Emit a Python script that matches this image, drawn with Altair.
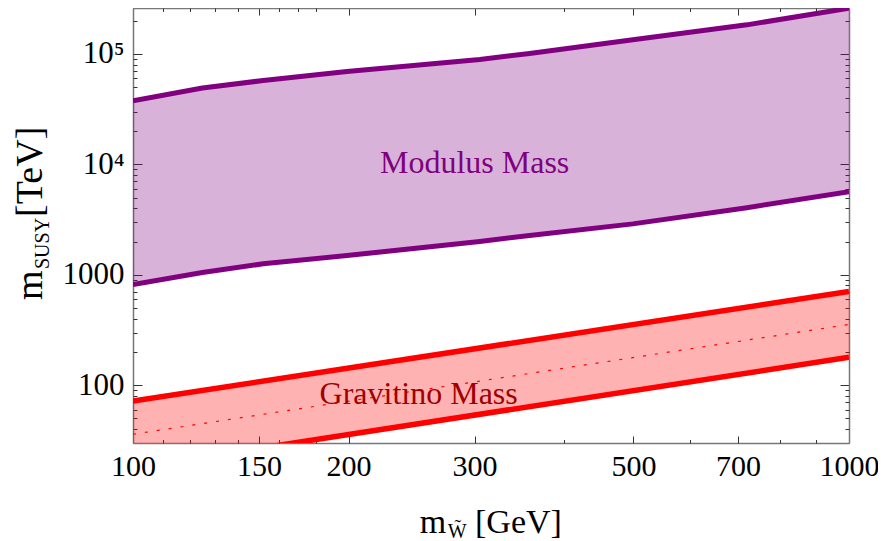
import altair as alt
import pandas as pd

# ---- data ----
purple_x = [100, 125, 152, 199, 305, 358, 499, 720, 1000]
purple_upper = [37600, 49000, 57400, 69200, 89000, 100800, 134000, 183000, 259000]
purple_lower = [817, 1050, 1257, 1493, 2000, 2270, 2890, 4050, 5650]

red_x = [100, 1000]
red_upper = [72, 705]
red_lower = [17.9, 179]
red_mid = [36, 355]

x_major = [100, 150, 200, 300, 500, 700, 1000]
x_minor = [110, 120, 130, 140, 160, 170, 180, 400, 600, 800, 900]
y_major = [100, 1000, 10000, 100000]
y_minor = [40, 50, 60, 70, 80, 90,
           200, 300, 400, 500, 600, 700, 800, 900,
           2000, 3000, 4000, 5000, 6000, 7000, 8000, 9000,
           20000, 30000, 40000, 50000, 60000, 70000, 80000, 90000,
           200000]

W, H = 716, 435
FONT = "Liberation Serif"
PURPLE = "#800080"
RED = "#ff0000"

purple = pd.DataFrame({"x": purple_x, "upper": purple_upper, "lower": purple_lower})
red = pd.DataFrame({"x": red_x, "upper": red_upper, "lower": red_lower, "mid": red_mid})

xs = alt.Scale(type="log", domain=[100, 1000], nice=False)
ys = alt.Scale(type="log", domain=[30, 2.6e5], nice=False)

NONE = None


def tick_axis(orient, offset, values, size, domain=False):
    return alt.Axis(orient=orient, offset=offset, values=values, labels=False,
                    ticks=True, tickSize=size, tickColor="#333333", tickWidth=1,
                    domain=domain, domainColor="#777777", domainWidth=1.5,
                    grid=False, title=None)


ax_bottom = alt.Axis(orient="bottom", values=x_major, ticks=False, domain=True,
                     domainColor="#777777", domainWidth=1.5, grid=False, title=None,
                     labelFont=FONT, labelFontSize=30, labelColor="black",
                     labelPadding=8, labelAngle=0, labelFlush=False,
                     labelOverlap=False, format="d")
ay_left = alt.Axis(orient="left", values=y_major, ticks=False, domain=True,
                   domainColor="#777777", domainWidth=1.5, grid=False, title=None,
                   labelFont=FONT, labelFontSize=31, labelColor="black",
                   labelPadding=9, labelFlush=False, labelOverlap=False,
                   labelExpr="datum.value == 10000 ? '10\u2074' : datum.value == 100000 ? '10\u2075' : format(datum.value, 'd')")


def X(field, axis):
    return alt.X(field, type="quantitative", scale=xs, axis=axis)


def Y(field, axis):
    return alt.Y(field, type="quantitative", scale=ys, axis=axis)


purple_area = alt.Chart(purple).mark_area(color=PURPLE, opacity=0.3, clip=True).encode(
    x=X("x", ax_bottom), y=Y("upper", ay_left), y2="lower")

red_area = alt.Chart(red).mark_area(color=RED, opacity=0.3, clip=True).encode(
    x=X("x", tick_axis("top", -H, x_major, 7)),
    y=Y("upper", tick_axis("right", -W, y_major, 9)), y2="lower")

purple_up = alt.Chart(purple).mark_line(color=PURPLE, strokeWidth=5, clip=True).encode(
    x=X("x", tick_axis("top", -H, x_minor, 3.5)),
    y=Y("upper", tick_axis("right", -W, y_minor, 4)))

purple_lo = alt.Chart(purple).mark_line(color=PURPLE, strokeWidth=5, clip=True).encode(
    x=X("x", tick_axis("bottom", -H, x_major, 7, domain=True)),
    y=Y("lower", tick_axis("left", -W, y_major, 9, domain=True)))

red_up = alt.Chart(red).mark_line(color=RED, strokeWidth=5.5, clip=True).encode(
    x=X("x", tick_axis("bottom", -H, x_minor, 3.5)),
    y=Y("upper", tick_axis("left", -W, y_minor, 4)))

red_lo = alt.Chart(red).mark_line(color=RED, strokeWidth=5.5, clip=True).encode(
    x=X("x", NONE), y=Y("lower", NONE))

red_md = alt.Chart(red).mark_line(color=RED, strokeWidth=1.2, strokeDash=[3, 9], clip=True).encode(
    x=X("x", NONE), y=Y("mid", NONE))

labels = pd.DataFrame({"x": [300, 250.6], "y": [8400, 67.3],
                       "t": ["Modulus Mass", "Gravitino Mass"],
                       "c": [PURPLE, "#a00000"]})
label_marks = alt.Chart(labels).mark_text(font=FONT, fontSize=32, align="center",
                                          baseline="alphabetic").encode(
    x=X("x", NONE), y=Y("y", NONE), text="t:N", color=alt.Color("c:N", scale=None))

one = pd.DataFrame({"a": [0]})


def txt(s, x, y, size, align="left", angle=0):
    kw = dict(font=FONT, fontSize=size, align=align, baseline="alphabetic",
              color="black", text=s)
    if angle:
        kw["angle"] = angle
    return alt.Chart(one).mark_text(**kw).encode(x=alt.value(x), y=alt.value(y))


titles = [
    txt("m", 286.7, 525.3, 34),
    txt("W\u0303", 314.7, 530, 20),
    txt("[GeV]", 342, 525.3, 34),
    txt("m", -91.3, 292, 38, angle=270),
    txt("SUSY", -84, 261, 20, angle=270),
    txt("[TeV]", -91.3, 118.7, 38, align="right", angle=270),
]

chart = alt.layer(purple_area, red_area, purple_up, purple_lo, red_up, red_lo, red_md,
                  label_marks, *titles).resolve_axis(x="independent", y="independent").properties(
    width=W, height=H, autosize="none",
    padding={"left": 125, "top": 0, "right": 29, "bottom": 98}
).configure_view(stroke=None)

chart.save("out.html", embed_options={"renderer": "svg", "actions": False})
